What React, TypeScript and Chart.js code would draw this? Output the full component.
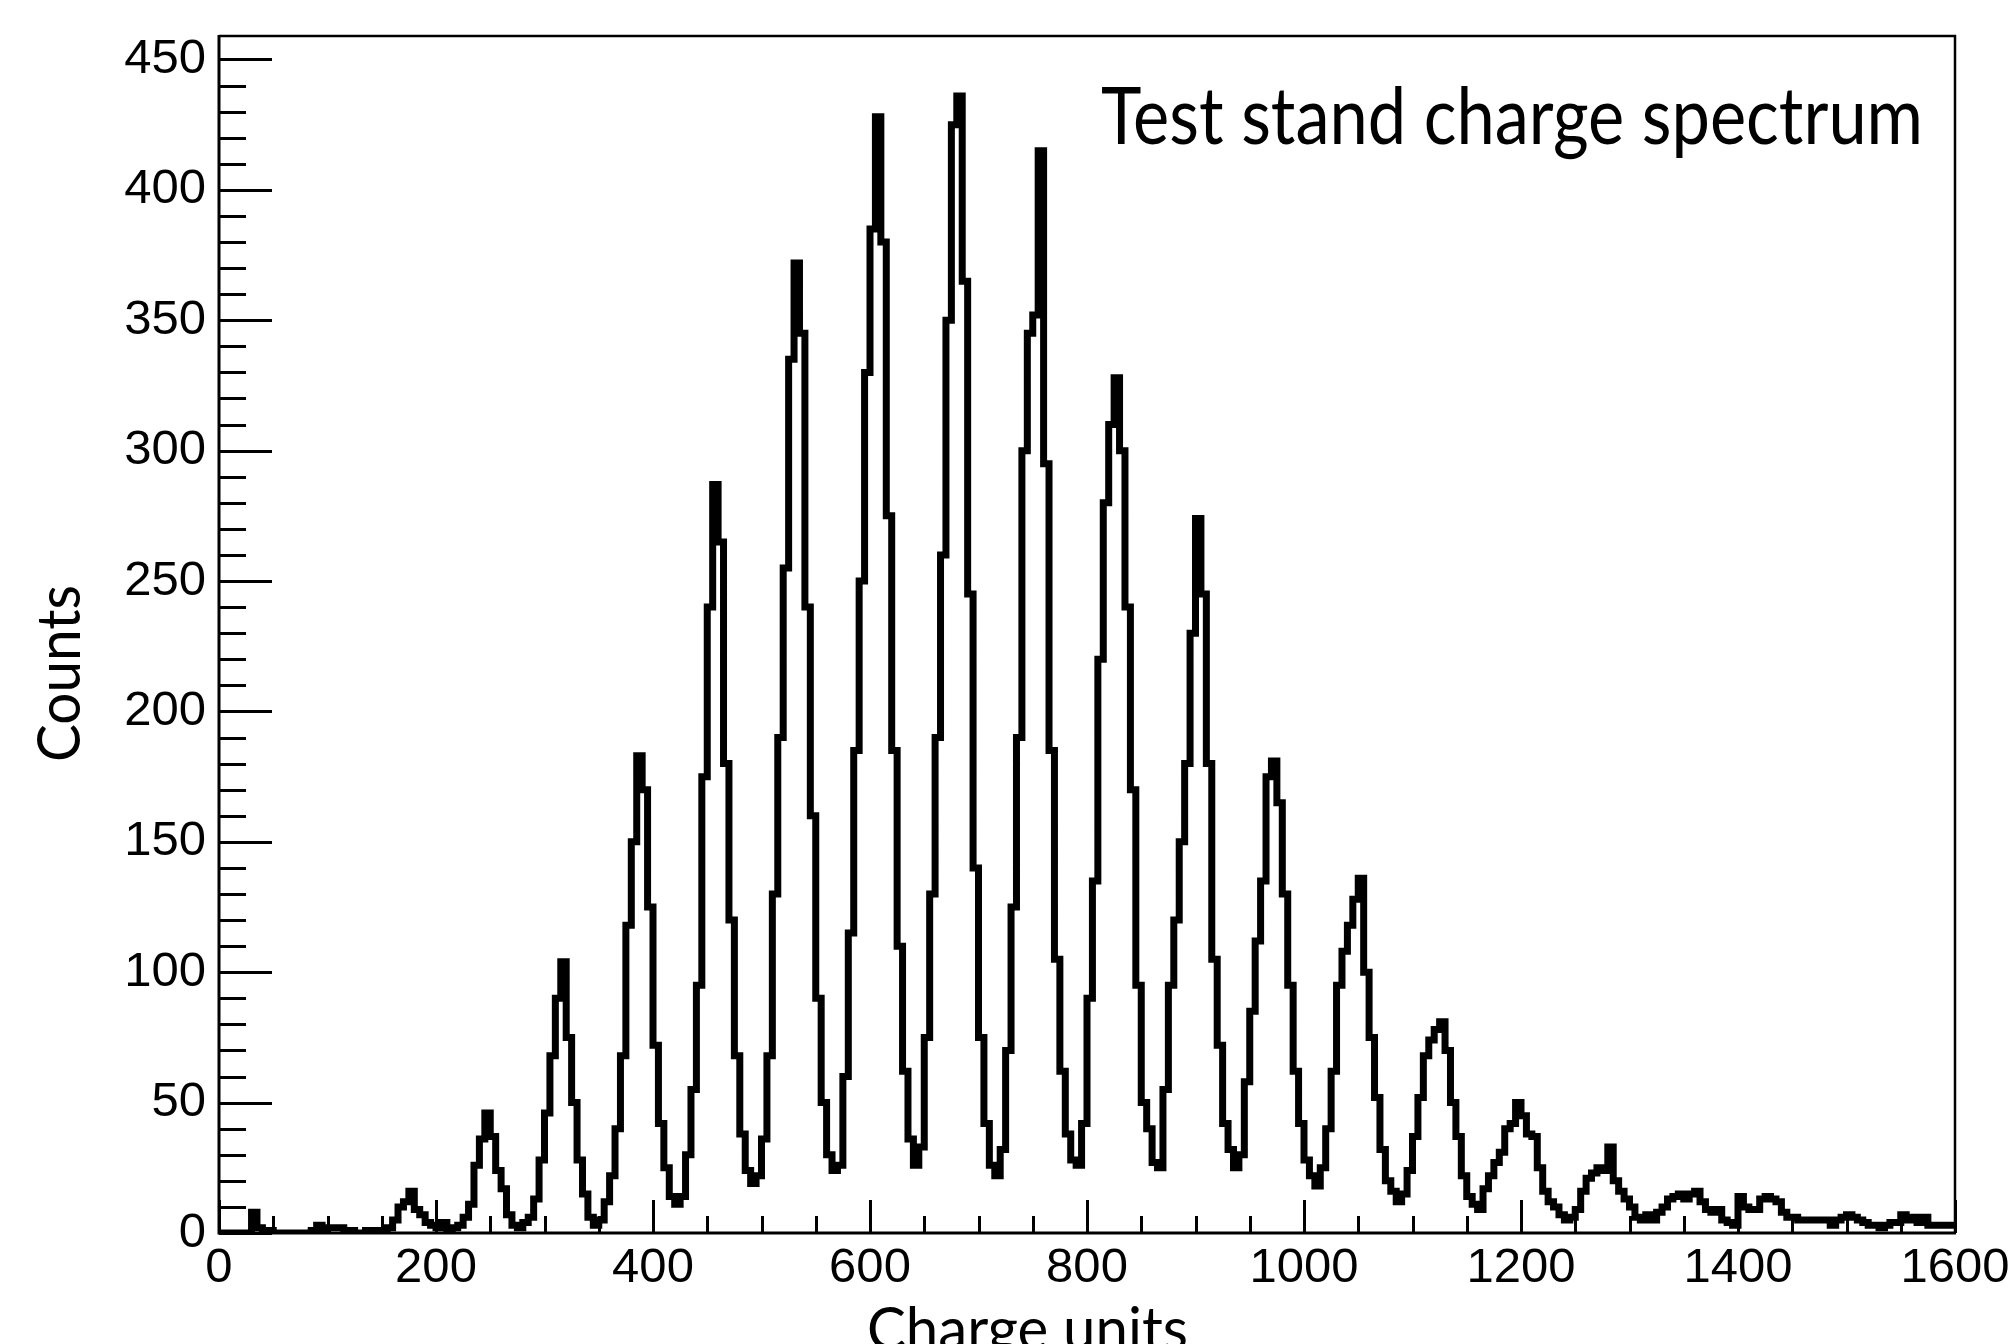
import React, { useEffect, useRef } from "react";
import { Chart, registerables } from "chart.js";

Chart.register(...registerables);

// ---- data ----
const BIN_START = 0;
const BIN_WIDTH = 5;
// counts per 5-unit bin, from 0 to 1600
const COUNTS = [
  0, 0, 0, 0, 0, 0, 8, 2, 1, 1, 0, 0, 0, 0, 0, 0, 0, 1, 3, 1, 2, 2, 2, 1, 1, 0, 0, 1, 1, 1, 1, 2,
  5, 10, 12, 16, 9, 7, 4, 3, 2, 4, 1, 2,
  3, 6, 11, 26, 36, 46, 37, 24, 17, 7, 3, 2, 4, 6,
  13, 28, 46, 68, 90, 104, 75, 50, 28, 15, 6, 3, 5,
  12, 22, 40, 68, 118, 150, 183, 170, 125, 72, 42, 25, 14, 11, 14,
  30, 55, 95, 175, 240, 287, 265, 180, 120, 68, 38, 24, 19, 22,
  36, 68, 130, 190, 255, 335, 372, 345, 240, 160, 90, 50, 30, 24, 26,
  60, 115, 185, 250, 330, 385, 428, 380, 275, 185, 110, 62, 36, 26, 33,
  75, 130, 190, 260, 350, 425, 436, 365, 245, 140, 75, 42, 26, 22, 32,
  70, 125, 190, 300, 345, 352, 415, 295, 185, 105, 62, 38, 28, 26, 42,
  90, 135, 220, 280, 310, 328, 300, 240, 170, 95, 50, 40, 27, 25,
  55, 95, 120, 150, 180, 230, 274, 245, 180, 105, 72, 42, 32, 25, 30,
  58, 85, 112, 135, 175, 181, 165, 130, 95, 62, 42, 28, 22, 18, 25,
  40, 62, 95, 108, 118, 128, 136, 100, 75, 52, 32, 20, 16, 12, 15,
  24, 37, 52, 68, 74, 78, 81, 70, 50, 37, 22, 14, 11, 9, 17,
  22, 27, 31, 40, 42, 50, 45, 38, 37, 25, 16, 12, 10, 7, 5, 6,
  9, 16, 21, 23, 25, 24, 33, 20, 16, 13, 10, 6, 5, 7, 5,
  8, 10, 13, 14, 15, 13, 15, 16, 12, 9, 8, 9, 5, 4, 3,
  14, 10, 9, 9, 13, 14, 13, 12, 8, 6, 6, 5, 5, 5,
  5, 5, 5, 3, 5, 6, 7, 6, 5, 4, 3, 3, 2, 3, 4, 4, 7, 5, 6, 4, 6, 3, 3, 3, 3, 3,
];
const X_TICKS = [0, 200, 400, 600, 800, 1000, 1200, 1400, 1600];
const Y_TICKS = [0, 50, 100, 150, 200, 250, 300, 350, 400, 450];
const X_RANGE = [0, 1600];
const Y_RANGE = [0, 459];
const TITLE = "Test stand charge spectrum";
const X_TITLE = "Charge units";
const Y_TITLE = "Counts";

const W = 2008;
const H = 1344;
const TEXT_FONT = "Lato, 'Open Sans', sans-serif";
const TICK_FONT = "'Liberation Sans', Arial, sans-serif";

function fittedText(
  ctx: CanvasRenderingContext2D,
  text: string,
  size: number,
  width: number,
  x: number,
  y: number,
  rotate: number
) {
  ctx.save();
  ctx.font = `${size}px ${TEXT_FONT}`;
  ctx.textAlign = "left";
  ctx.textBaseline = "alphabetic";
  ctx.fillStyle = "#000";
  const w = ctx.measureText(text).width;
  ctx.translate(x, y);
  if (rotate) ctx.rotate(rotate);
  ctx.scale(width / w, 1);
  ctx.fillText(text, 0, 0);
  ctx.restore();
}

const rootFramePlugin = {
  id: "rootFrame",
  afterDatasetsDraw(chart: any) {
    const { ctx, chartArea: a, scales } = chart;
    const xs = scales.x;
    const ys = scales.y;
    ctx.save();
    ctx.strokeStyle = "#000";
    ctx.lineCap = "butt";
    ctx.lineWidth = 3;
    ctx.beginPath();
    for (let v = Y_RANGE[0]; v <= Y_RANGE[1]; v += 10) {
      const py = Math.round(ys.getPixelForValue(v)) + 0.5;
      const len = v % 50 === 0 ? 53 : 27;
      ctx.moveTo(a.left, py);
      ctx.lineTo(a.left + len, py);
    }
    for (let v = X_RANGE[0]; v <= X_RANGE[1]; v += 50) {
      const px = Math.round(xs.getPixelForValue(v)) + 0.5;
      const len = v % 200 === 0 ? 33 : 17;
      ctx.moveTo(px, a.bottom);
      ctx.lineTo(px, a.bottom - len);
    }
    ctx.stroke();
    // frame
    ctx.lineWidth = 2.5;
    ctx.beginPath();
    ctx.moveTo(a.left, a.top);
    ctx.lineTo(a.right, a.top);
    ctx.lineTo(a.right, a.bottom);
    ctx.stroke();
    ctx.lineWidth = 3;
    ctx.beginPath();
    ctx.moveTo(a.left, a.top - 1);
    ctx.lineTo(a.left, a.bottom);
    ctx.lineTo(a.right + 1, a.bottom);
    ctx.stroke();
    ctx.restore();

    // texts
    fittedText(ctx, TITLE, 80, 822, 1101, 144, 0);
    fittedText(ctx, Y_TITLE, 60, 177, 80, 762, -Math.PI / 2);
    fittedText(ctx, X_TITLE, 60, 321, 867, 1350, 0);
  },
};

export default function App() {
  const ref = useRef<HTMLCanvasElement | null>(null);

  useEffect(() => {
    document.body.style.margin = "0";
    const canvas = ref.current;
    if (!canvas) return;
    const points = COUNTS.map((c, i) => ({ x: BIN_START + i * BIN_WIDTH, y: c }));
    points.push({ x: BIN_START + COUNTS.length * BIN_WIDTH, y: COUNTS[COUNTS.length - 1] });

    const chart = new Chart(canvas, {
      type: "line",
      data: {
        datasets: [
          {
            data: points,
            borderColor: "#000",
            borderWidth: 7,
            pointRadius: 0,
            fill: false,
            stepped: "before",
            borderJoinStyle: "miter",
            borderCapStyle: "butt",
          },
        ],
      },
      options: {
        responsive: false,
        animation: false,
        devicePixelRatio: 1,
        layout: { padding: { left: 0, right: 53, top: 36, bottom: 0 }, autoPadding: false },
        plugins: { legend: { display: false }, tooltip: { enabled: false }, title: { display: false } },
        scales: {
          x: {
            type: "linear",
            min: X_RANGE[0],
            max: X_RANGE[1],
            position: "bottom",
            grid: { display: false, drawTicks: false },
            border: { display: false },
            afterFit: (s: any) => {
              s.height = 111;
              s.paddingLeft = 0;
              s.paddingRight = 0;
            },
            afterBuildTicks: (s: any) => {
              s.ticks = X_TICKS.map((v) => ({ value: v }));
            },
            ticks: {
              autoSkip: false,
              maxRotation: 0,
              padding: 6,
              color: "#000",
              font: { family: TICK_FONT, size: 49 },
              callback: (v: any) => String(v),
            },
          },
          y: {
            type: "linear",
            min: Y_RANGE[0],
            max: Y_RANGE[1],
            position: "left",
            grid: { display: false, drawTicks: false },
            border: { display: false },
            afterFit: (s: any) => {
              s.width = 219;
              s.paddingTop = 0;
              s.paddingBottom = 0;
            },
            afterBuildTicks: (s: any) => {
              s.ticks = Y_TICKS.map((v) => ({ value: v }));
            },
            ticks: {
              autoSkip: false,
              padding: 13,
              color: "#000",
              font: { family: TICK_FONT, size: 49 },
              callback: (v: any) => String(v),
            },
          },
        },
      },
      plugins: [rootFramePlugin],
    } as any);

    return () => chart.destroy();
  }, []);

  return (
    <div style={{ position: "fixed", left: 0, top: 0, width: W, height: H, background: "#fff" }}>
      <canvas ref={ref} width={W} height={H} style={{ display: "block" }} />
    </div>
  );
}
